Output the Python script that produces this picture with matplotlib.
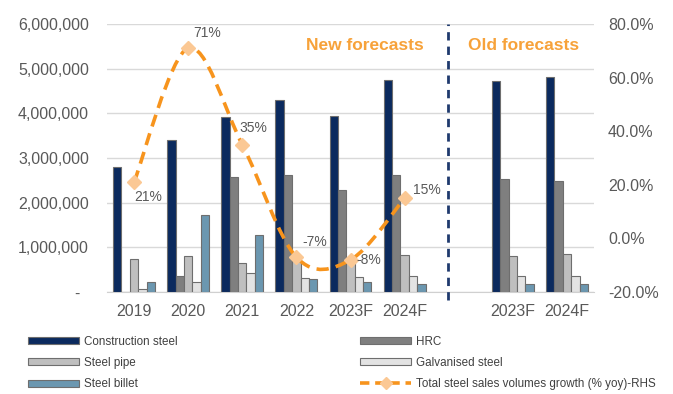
import matplotlib
matplotlib.use("Agg")
import matplotlib.pyplot as plt
import numpy as np
from matplotlib.path import Path
from matplotlib.patches import PathPatch, Patch
from matplotlib.lines import Line2D
from matplotlib.ticker import FuncFormatter

plt.rcParams['font.family'] = ['Liberation Sans', 'DejaVu Sans']

# Category axis: new forecasts, an empty spacer slot, then old forecasts
categories = ["2019", "2020", "2021", "2022", "2023F", "2024F", "", "2023F", "2024F"]
bar_slots = [0, 1, 2, 3, 4, 5, 7, 8]

# Sales volumes (tonnes)
construction_steel = [2800000, 3400000, 3910000, 4290000, 3940000, 4750000, 4720000, 4810000]
hrc = [0, 350000, 2570000, 2630000, 2290000, 2630000, 2530000, 2490000]
steel_pipe = [730000, 800000, 660000, 740000, 680000, 820000, 800000, 840000]
galvanised_steel = [75000, 220000, 420000, 310000, 330000, 350000, 350000, 350000]
steel_billet = [220000, 1720000, 1280000, 280000, 220000, 190000, 190000, 190000]

# Total steel sales volume growth, % yoy (right-hand scale)
growth_slots = [0, 1, 2, 3, 4, 5]
growth_pct = [21, 71, 35, -7, -8, 15]

series = [
    ("Construction steel", construction_steel, "#0b2a5e"),
    ("HRC", hrc, "#7f7f7f"),
    ("Steel pipe", steel_pipe, "#bfbfbf"),
    ("Galvanised steel", galvanised_steel, "#e3e3e3"),
    ("Steel billet", steel_billet, "#6b97b0"),
]

W, H = 673, 394
fig = plt.figure(figsize=(W / 100, H / 100), dpi=100)
ax = fig.add_axes([107 / W, 1 - 292 / H, (594 - 107) / W, (292 - 24) / H])
ax2 = ax.twinx()

text_grey = "#595959"
orange = "#f7941d"

# Bars
bw = 0.155
xs = np.array(bar_slots, dtype=float)
for i, (name, vals, col) in enumerate(series):
    ax.bar(xs + (i - 2) * bw, vals, width=bw, color=col, edgecolor="#6e6e6e",
           linewidth=0.8, zorder=3, label=name)

ax.set_xlim(-0.5, 8.5)
ax.set_ylim(0, 6000000)
ax.set_yticks(np.arange(0, 6000001, 1000000))
ax.yaxis.set_major_formatter(FuncFormatter(lambda v, p: "-  " if v == 0 else f"{v:,.0f}"))
ax.set_xticks(range(len(categories)))
ax.set_xticklabels(categories)
ax.grid(axis="y", color="#d9d9d9", linewidth=1, zorder=0)
ax.set_axisbelow(True)
for s in ["left", "right", "top"]:
    ax.spines[s].set_visible(False)
ax.spines["bottom"].set_color("#d0d0d0")
ax.tick_params(axis="both", length=0, labelsize=11.5, colors=text_grey)
ax.tick_params(axis="y", pad=13)
ax.tick_params(axis="x", pad=9)

# Right axis for growth
ax2.set_ylim(-20, 80)
ax2.set_yticks(np.arange(-20, 81, 20))
ax2.yaxis.set_major_formatter(FuncFormatter(lambda v, p: f"{v:.1f}%"))
ax2.tick_params(axis="y", length=0, labelsize=11.5, colors=text_grey, pad=10)
for s in ax2.spines.values():
    s.set_visible(False)

# Smoothed growth line (Catmull-Rom style cubic Bezier through the points)
px = np.array(growth_slots, dtype=float)
py = np.array(growth_pct, dtype=float)
pts = np.column_stack([px, py])
n = len(pts)
verts = [tuple(pts[0])]
codes = [Path.MOVETO]
for k in range(n - 1):
    p0 = pts[max(k - 1, 0)]
    p1 = pts[k]
    p2 = pts[k + 1]
    p3 = pts[min(k + 2, n - 1)]
    c1 = p1 + (p2 - p0) / 6.0
    c2 = p2 - (p3 - p1) / 6.0
    verts += [tuple(c1), tuple(c2), tuple(p2)]
    codes += [Path.CURVE4] * 3
curve = PathPatch(Path(verts, codes), fill=False, edgecolor=orange, linewidth=2.6,
                  linestyle=(0, (3.4, 2.0)), zorder=5, capstyle="butt")
ax2.add_patch(curve)
ax2.plot(px, py, linestyle="none", marker="D", markersize=7,
         markerfacecolor="#fbc894", markeredgecolor="#fbc894", zorder=6)

label_offsets = [(10, -11), (14, 11), (8, 12), (13, 11), (13, 0), (16, 6)]
for x, y, off in zip(px, py, label_offsets):
    ax2.annotate(f"{y:.0f}%", (x, y), xytext=off, textcoords="offset points",
                 ha="center", va="center", fontsize=10, color=text_grey, zorder=7)

# Divider between new and old forecasts
ax.axvline(5.8, ymin=-0.03, ymax=1.0, color="#1f3a6e", linewidth=2,
           linestyle=(0, (3, 2.2)), clip_on=False, zorder=4)

fig.text(365 / W, 1 - 46 / H, "New forecasts", ha="center", va="center",
         fontsize=12.5, fontweight="bold", color="#f7a23a")
fig.text(524 / W, 1 - 46 / H, "Old forecasts", ha="center", va="center",
         fontsize=12.5, fontweight="bold", color="#f7a23a")

# Legend in two columns
def patch(name, col):
    return Patch(facecolor=col, edgecolor="#6e6e6e", linewidth=0.8, label=name)

col1 = [patch(series[0][0], series[0][2]), patch(series[2][0], series[2][2]),
        patch(series[4][0], series[4][2])]
line_handle = Line2D([], [], color=orange, linewidth=2.6, linestyle=(0, (2.6, 1.6)),
                     marker="D", markersize=6, markerfacecolor="#fbc894",
                     markeredgecolor="#fbc894")
col2 = [patch(series[1][0], series[1][2]), patch(series[3][0], series[3][2])]
col2_labels = [series[1][0], series[3][0], "Total steel sales volumes growth (% yoy)-RHS"]

leg_kw = dict(frameon=False, fontsize=8.4, handlelength=4.4, handleheight=0.55,
              handletextpad=0.4, labelspacing=0.78, borderaxespad=0, borderpad=0,
              labelcolor="#404040")
fig.legend(col1, [h.get_label() for h in col1], loc="upper left",
           bbox_to_anchor=(28 / W, 1 - 336 / H), **leg_kw)
fig.legend(col2 + [line_handle], col2_labels, loc="upper left",
           bbox_to_anchor=(360 / W, 1 - 336 / H), **leg_kw)

fig.savefig("out.png", dpi=100)
